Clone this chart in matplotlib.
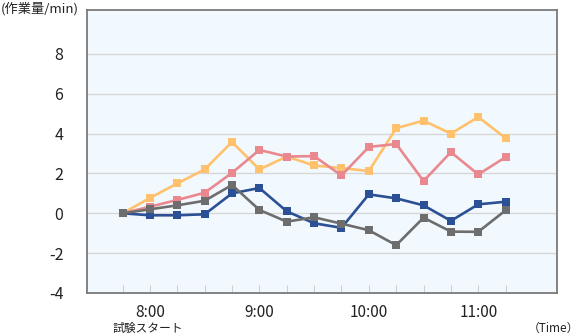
import matplotlib
matplotlib.use('Agg')
import matplotlib.pyplot as plt

plt.rcParams['font.family'] = ['Noto Sans CJK JP', 'DejaVu Sans']

# 15-minute samples from 7:45 to 11:15
times = ['7:45', '8:00', '8:15', '8:30', '8:45', '9:00', '9:15', '9:30',
         '9:45', '10:00', '10:15', '10:30', '10:45', '11:00', '11:15']
hour_labels = {1: '8:00', 5: '9:00', 9: '10:00', 13: '11:00'}

yellow = [0, 0.77, 1.5, 2.2, 3.58, 2.2, 2.85, 2.4, 2.27, 2.12, 4.27, 4.65, 4.0, 4.83, 3.77]
pink = [0, 0.33, 0.67, 1.03, 2.03, 3.18, 2.85, 2.87, 1.9, 3.33, 3.48, 1.62, 3.07, 1.95, 2.82]
blue = [0, -0.1, -0.1, -0.05, 1.0, 1.27, 0.1, -0.5, -0.73, 0.95, 0.75, 0.4, -0.38, 0.45, 0.58]
gray = [0, 0.2, 0.4, 0.63, 1.42, 0.17, -0.42, -0.2, -0.52, -0.85, -1.6, -0.22, -0.92, -0.93, 0.15]

series = [
    (yellow, '#FFC16C'),
    (pink, '#E9898F'),
    (blue, '#2B5096'),
    (gray, '#6D6D6D'),
]

fig = plt.figure(figsize=(5.8, 3.36), dpi=100)
ax = fig.add_axes([0.150, 0.128, 0.810, 0.842])
ax.set_facecolor('#F2F9FE')

x = list(range(len(times)))
for vals, col in series:
    ax.plot(x, vals, color=col, lw=1.9, marker='s', ms=5.2,
            markeredgewidth=0, zorder=3)

ax.set_xlim(-1.3, 15.87)
ax.set_ylim(-4, 10.2)
ax.set_yticks([-4, -2, 0, 2, 4, 6, 8])
ax.set_yticklabels(['-4', '-2', '0', '2', '4', '6', '8'])
ax.grid(axis='y', color='#D6D6D6', lw=1.0, zorder=1)
ax.tick_params(axis='y', length=0, pad=17, labelsize=11.5, colors='#222222')

ax.set_xticks(x)
ax.set_xticklabels([hour_labels.get(i, '') for i in x])
ax.tick_params(axis='x', direction='in', length=6, width=0.8, color='#CFCFCF',
               pad=8, labelsize=11, labelcolor='#222222')

for s in ax.spines.values():
    s.set_color('#7A7A7A')
    s.set_linewidth(1.3)

fig.text(0.002, 0.993, '(作業量/min)', ha='left', va='top', fontsize=9.5, color='#222222')
fig.text(0.255, 0.022, '試験スタート', ha='center', va='center', fontsize=8.5, color='#222222')
fig.text(0.998, 0.022, '（Time）', ha='right', va='center', fontsize=8.5, color='#222222')

fig.savefig('out.png', dpi=100, facecolor='white')
